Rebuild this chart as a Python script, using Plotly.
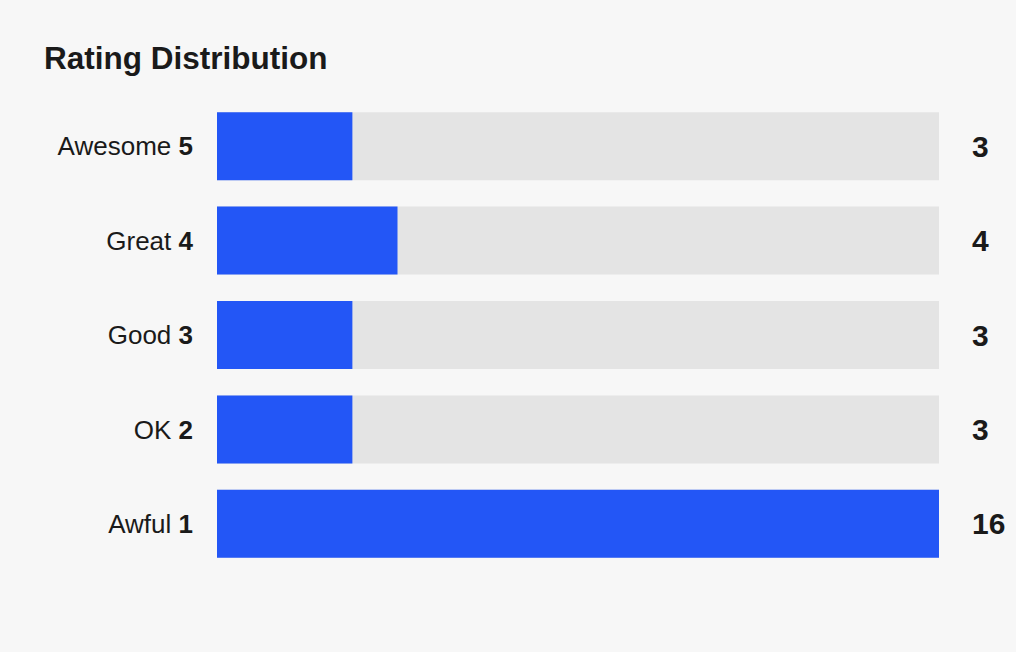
import plotly.graph_objects as go

labels = ["Awesome", "Great", "Good", "OK", "Awful"]
ratings = [5, 4, 3, 2, 1]
counts = [3, 4, 3, 3, 16]

BLUE = "#2356F6"
TRACK = "#E4E4E4"
BG = "#F7F7F7"
TXT = "#1A1A1A"
FONT = "Liberation Sans, Arial, sans-serif"

cats = [f"{l} <b>{r}</b>" for l, r in zip(labels, ratings)]
full = [max(counts)] * len(counts)

fig = go.Figure()
fig.add_trace(go.Bar(y=cats, x=full, orientation="h", marker=dict(color=TRACK, line=dict(width=0)),
                     width=0.72, hoverinfo="skip", showlegend=False))
fig.add_trace(go.Bar(y=cats, x=counts, orientation="h", marker=dict(color=BLUE, line=dict(width=0)),
                     width=0.72, showlegend=False))

for c, v in zip(cats, counts):
    fig.add_annotation(x=1, xref="paper", y=c, yref="y", text=f"<b>{v}</b>", showarrow=False,
                       xanchor="left", xshift=31, font=dict(size=30, color=TXT, family=FONT))

fig.update_layout(
    width=1016, height=652,
    paper_bgcolor=BG, plot_bgcolor=BG,
    barmode="overlay",
    margin=dict(l=217, r=77, t=99, b=81),
    title=dict(text="<b>Rating Distribution</b>", x=44/1016, xref="container", xanchor="left",
               y=1-58/652, yref="container", yanchor="middle",
               font=dict(size=31.5, color=TXT, family=FONT)),
    xaxis=dict(range=[0, max(counts)], visible=False, showgrid=False, zeroline=False),
    yaxis=dict(categoryorder="array", categoryarray=cats[::-1], showgrid=False, zeroline=False,
               ticks="", ticklabelstandoff=23, tickfont=dict(size=26, color=TXT, family=FONT),
               showline=False),
    font=dict(family=FONT, color=TXT),
)

fig.write_html("out.html", config={"displayModeBar": False},
               post_script="document.body.style.margin='0';document.body.style.background='#F7F7F7';")
